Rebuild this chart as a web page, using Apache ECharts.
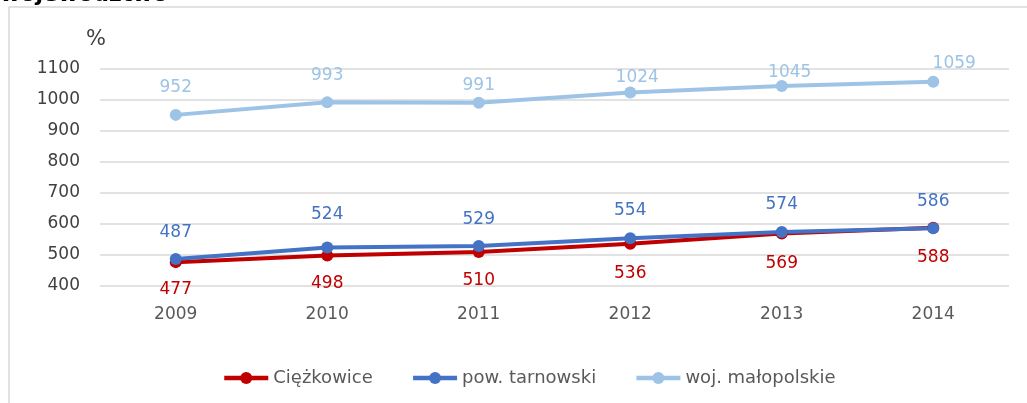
<!DOCTYPE html>
<html>
<head>
<meta charset="utf-8">
<script src="https://cdn.jsdelivr.net/npm/echarts@6/dist/echarts.min.js"></script>
<style>
  html, body { margin: 0; padding: 0; background: #fff; }
  #chart { width: 1027px; height: 403px; }
</style>
</head>
<body>
<div id="chart"></div>
<script>
// Years on the category axis
const years = ['2009', '2010', '2011', '2012', '2013', '2014'];

// Values per area
const ciezkowice = [477, 498, 510, 536, 569, 588];
const powTarnowski = [487, 524, 529, 554, 574, 586];
const wojMalopolskie = [952, 993, 991, 1024, 1045, 1059];

// Series names and colours
const seriesNames = ['Ciężkowice', 'pow. tarnowski', 'woj. małopolskie'];
const seriesColors = ['#C00000', '#4472C4', '#9DC3E6'];

const font = 'DejaVu Sans';

// Small hand-placed nudges for individual value labels [dx, dy]
const labelNudge = {
  cie: [[0, 0], [0, 0], [0, 1], [0, 2], [0, 2], [0, 2]],
  pow: [[0, 1], [0, -5], [0, 1], [0, 0], [0, 0], [0, 1]],
  woj: [[0, 0], [0, 1], [0, 10], [7, 13], [8, 14], [21, 9]]
};

function lineSeries(name, values, nudges, color, labelPos) {
  return {
    name: name,
    type: 'line',
    data: values.map((v, i) => ({ value: v, label: { offset: nudges[i] } })),
    symbol: 'circle',
    symbolSize: 12,
    lineStyle: { width: 4, color: color },
    itemStyle: { color: color },
    label: {
      show: true,
      position: labelPos,
      distance: 13,
      color: color,
      fontFamily: font,
      fontSize: 17
    }
  };
}

const chart = echarts.init(document.getElementById('chart'));
chart.setOption({
  animation: false,
  textStyle: { fontFamily: font },
  graphic: [
    {
      type: 'rect',
      shape: { x: 9, y: 7, width: 1100, height: 600 },
      style: { fill: 'none', stroke: '#D9D9D9', lineWidth: 1.5 },
      silent: true
    },
    {
      type: 'text',
      left: 0,
      top: -16,
      style: {
        text: 'województwo',
        fontFamily: font,
        fontWeight: 'bold',
        fontSize: 22,
        fill: '#000'
      }
    }
  ],
  grid: { left: 100, right: 18, top: 69, bottom: 117 },
  legend: {
    data: seriesNames,
    top: 364,
    left: 217,
    itemWidth: 44,
    itemHeight: 15,
    itemGap: 38,
    lineStyle: { width: 4.5 },
    textStyle: { color: '#595959', fontFamily: font, fontSize: 18 }
  },
  xAxis: {
    type: 'category',
    data: years,
    boundaryGap: true,
    axisLine: { show: false },
    axisTick: { show: false },
    axisLabel: { color: '#595959', fontFamily: font, fontSize: 17, margin: 20 }
  },
  yAxis: {
    type: 'value',
    min: 400,
    max: 1100,
    interval: 100,
    name: '%',
    nameLocation: 'end',
    nameGap: 19,
    nameTextStyle: { color: '#404040', fontFamily: font, fontSize: 21, align: 'right', padding: [0, -6, 0, 0] },
    axisLine: { show: false },
    axisTick: { show: false },
    axisLabel: {
      color: '#404040',
      fontFamily: font,
      fontSize: 17,
      margin: 20,
      formatter: v => String(v)
    },
    splitLine: { lineStyle: { color: '#D9D9D9', width: 1.5 } }
  },
  series: [
    lineSeries(seriesNames[0], ciezkowice, labelNudge.cie, seriesColors[0], 'bottom'),
    lineSeries(seriesNames[1], powTarnowski, labelNudge.pow, seriesColors[1], 'top'),
    lineSeries(seriesNames[2], wojMalopolskie, labelNudge.woj, seriesColors[2], 'top')
  ]
});
</script>
</body>
</html>
